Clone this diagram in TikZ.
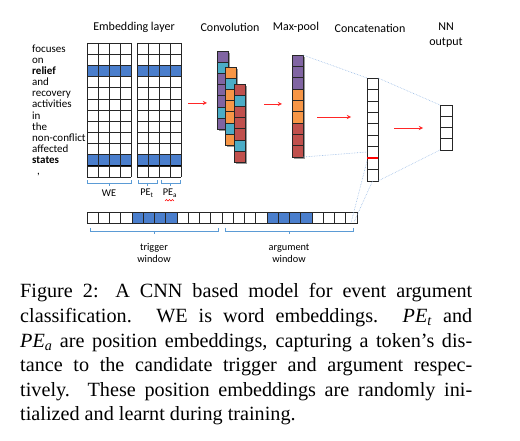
\documentclass[tikz,border=0pt]{standalone}
\usepackage{fontspec}
\setmainfont{Liberation Serif}
\newfontfamily\calib{Carlito}
\usetikzlibrary{arrows}

\definecolor{embblue}{RGB}{74,126,204}
\definecolor{cvpurple}{RGB}{128,100,162}
\definecolor{cvteal}{RGB}{75,172,198}
\definecolor{cvorange}{RGB}{247,150,70}
\definecolor{cvred}{RGB}{192,80,77}
\definecolor{bracecol}{RGB}{91,155,213}
\definecolor{linkcol}{RGB}{150,185,228}

\tikzset{
  cell/.style={draw=black!85,line width=0.6pt},
  hdr/.style={font=\calib\fontsize{12}{15}\selectfont,inner sep=0pt,align=center},
  word/.style={font=\calib\fontsize{11}{12}\selectfont,anchor=base west,inner sep=0pt},
  small/.style={font=\calib\fontsize{10.3}{12}\selectfont,inner sep=0pt,align=center},
  flow/.style={->,red!85,line width=0.9pt},
  link/.style={draw=linkcol,densely dotted,line width=0.6pt},
  brc/.style={draw=bracecol,line width=0.7pt},
  col/.style={minimum width=11pt,inner sep=0pt,outer sep=0pt,anchor=north west},
  capline/.style={anchor=base west,inner sep=0pt,font=\fontsize{20.2}{24.5}\selectfont}
}

\begin{document}
\begin{tikzpicture}[x=1pt,y=-1pt,>=stealth]
  \useasboundingbox (0,0) rectangle (520,441);

  % titles
  \node[hdr] (tEmb) at (134,27) {Embedding layer};
  \node[hdr] (tConv) at (230,27) {Convolution};
  \node[hdr] (tPool) at (296,27) {Max-pool};
  \node[hdr] (tCat) at (370,28) {Concatenation};
  \node[hdr] (tOut) at (446,35) {NN\\output};

  % sentence
  \foreach \w [count=\i from 0] in {focuses,on,\textbf{relief},and,recovery,activities,in,the,non-conflict,affected,\textbf{states},{\hspace{5pt},}}
    \node[word] (w\i) at (32,{43+11.17*(\i+0.5)+3.5}) {\w};

  % embedding layer: WE and PE
  \foreach \gx in {87,137} {
    \foreach \r in {2,10} {
      \fill[embblue] (\gx,{43+\r*11.17}) rectangle ++(44,11.17);
      \draw[line width=1pt] (\gx,{43+\r*11.17}) rectangle ++(44,11.17);
    }
    \foreach \r in {0,...,12} \draw[cell] (\gx,{43+\r*11.17}) -- ++(44,0);
    \foreach \c in {0,...,4} \draw[cell] ({\gx+\c*11},43) -- ++(0,134);
  }

  % braces under embeddings
  \foreach \a/\b/\y in {87/131/183,138/157/183,161/180/183,90/218/231,225/353/231}
    \draw[brc] (\a,\y-3) -- (\a,\y) -- (\b,\y) -- (\b,\y-3) ({(\a+\b)/2},\y) -- ++(0,3);
  \node[small] (lWE) at (109,193) {WE};
  \node[small] (lPEt) at (147,193) {PE\textsubscript{t}};
  \node[small] (lPEa) at (170,193) {PE\textsubscript{a}};
  \draw[red,line width=0.5pt] (165,201) -- (166.5,199.5) -- (168,201) -- (169.5,199.5) -- (171,201) -- (172.5,199.5) -- (174,201);

  % convolution
  \foreach \x/\y/\ca in {217/51/cvpurple,225/67/cvorange,234/84/cvred} {
    \fill[black!40] (\x+1.8,\y+1.8) rectangle ++(11,78.4);
    \foreach \r in {0,...,6} {
      \ifnum\r=1 \def\cvcol{cvteal}\else\ifnum\r=5 \def\cvcol{cvteal}\else\def\cvcol{\ca}\fi\fi
      \draw[cell,fill=\cvcol] (\x,{\y+\r*11.2}) rectangle ++(11,11.2);
    }
  }

  % max-pool
  \node[col,minimum height=102pt] (mp) at (292,55) {};
  \fill[black!40] (293.8,56.8) rectangle ++(11,102);
  \foreach \r/\cc in {0/cvpurple,1/cvpurple,2/cvpurple,3/cvorange,4/cvorange,5/cvorange,6/cvred,7/cvred,8/cvred}
    \draw[cell,fill=\cc] (292,{55+\r*11.33}) rectangle ++(11,11.33);

  % concatenation
  \node[col,minimum height=103pt] (cat) at (367,78) {};
  \draw[cell,fill=white] (367,78) rectangle ++(11,103);
  \foreach \r in {1,...,8} \draw[cell] (367,{78+\r*11.44}) -- ++(11,0);
  \draw[red,line width=1.3pt] (367,{78+7*11.44}) -- ++(11,0);
  \coordinate (catIn) at (367,152);
  \coordinate (catLex) at (367,161);

  % output
  \node[col,minimum height=45pt] (nn) at (440,105) {};
  \draw[cell] (440,105) rectangle ++(12,45);
  \foreach \r in {1,2,3} \draw[cell] (440,{105+\r*11.25}) -- ++(12,0);

  % window over the sentence
  \node[anchor=north west,minimum width=270pt,minimum height=11pt,inner sep=0pt,outer sep=0pt] (sent) at (87,212) {};
  \foreach \c in {4,...,7,16,17,18,19} \fill[embblue] ({87+\c*11.25},212) rectangle ++(11.25,11);
  \foreach \c in {0,...,23} \draw[cell] ({87+\c*11.25},212) rectangle ++(11.25,11);
  \coordinate (sentA) at (351,223);
  \coordinate (sentB) at (354,222);
  \node[small] (lTrg) at (154,253) {trigger\\window};
  \node[small] (lArg) at (289,253) {argument\\window};

  % arrows
  \draw[flow] (188,103) -- (207,103);
  \draw[flow] (264,104) -- (282,104);
  \draw[flow] (317,117) -- (351,117);
  \draw[flow] (394,128) -- (423,128);

  % dotted links
  \draw[link] (mp.north east) -- (cat.north west);
  \draw[link] (mp.south east) -- (catIn);
  \draw[link] (cat.north east) -- (nn.north west);
  \draw[link] (cat.south east) -- (nn.south west);
  \draw[link] (catLex) -- (sentA);
  \draw[link] (cat.south) -- (sentB);

  % caption
  \node[capline] (cap1) at (20,298) {\makebox[452pt][s]{Figure 2: A CNN based model for event argument}};
  \node[capline] (cap2) at (20,322.5) {\makebox[452pt][s]{classification. WE is word embeddings. \textit{PE}\textsubscript{\textit{t}} and}};
  \node[capline] (cap3) at (20,347) {\makebox[452pt][s]{\textit{PE}\textsubscript{\textit{a}} are position embeddings, capturing a token’s dis-}};
  \node[capline] (cap4) at (20,371.5) {\makebox[452pt][s]{tance to the candidate trigger and argument respec-}};
  \node[capline] (cap5) at (20,396) {\makebox[452pt][s]{tively. These position embeddings are randomly ini-}};
  \node[capline] (cap6) at (20,420.5) {tialized and learnt during training.};
\end{tikzpicture}
\end{document}
